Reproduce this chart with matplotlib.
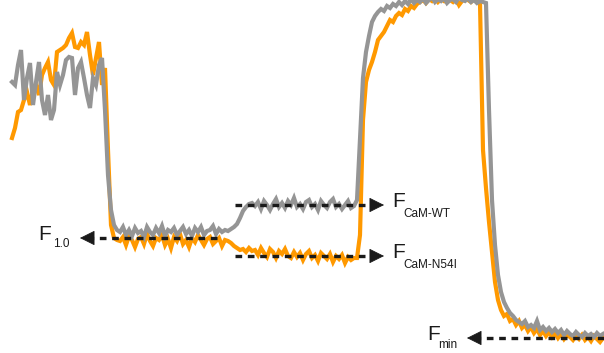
import numpy as np
import matplotlib
matplotlib.use("Agg")
import matplotlib.pyplot as plt

# time axis: 0.5 s per sample, 198 samples
dt = 0.5
gray_wt = [
    256, 253, 273, 288, 238, 260, 275, 233, 256, 276, 238, 223, 243, 218, 228, 266, 253, 263, 278, 281,
    280, 243, 270, 276, 260, 243, 230, 260, 253, 273, 280, 228, 163, 128, 113, 108,
    106, 111, 103, 108, 102, 110, 105, 107, 101, 111, 106, 103, 110, 105, 112, 102, 108, 106, 110, 103,
    107, 111, 104, 108, 102, 110, 106, 111, 103, 107, 108, 112, 104, 109, 106, 108,
    107, 109, 111, 114, 120, 127, 131, 134, 135,
    132, 136, 129, 137, 133, 128, 134, 139, 131, 135, 130, 137, 133, 140, 131, 134, 129, 136, 138, 131,
    134, 128, 137, 133, 130, 136, 139, 131, 134, 129, 133, 137, 130, 132,
    138, 198, 260, 286, 302, 316, 322, 326, 329, 327, 332, 330, 334, 332, 336, 333, 337, 334, 339, 335,
    338, 336, 340, 335, 338, 341, 336, 339, 337, 340, 335, 338, 339, 336, 341, 338, 337, 340, 336, 338,
    335, 337, 336,
    335, 228, 138, 93, 63, 46, 36, 30, 25, 22, 18, 16, 14, 17, 11, 13, 10, 17, 8, 11,
    7, 10, 6, 9, 5, 8, 3, 7, 4, 2, 6, 3, 1, 5, 2, 4, 1, 5, 2, 4,
]
orange_n54i = [
    200, 210, 226, 228, 238, 246, 233, 248, 253, 243, 263, 270, 276, 258, 253, 286, 288, 290, 293, 300,
    305, 291, 290, 296, 293, 306, 283, 263, 280, 296, 253, 270, 188, 113, 100, 98,
    97, 101, 93, 102, 98, 91, 99, 101, 94, 104, 97, 92, 100, 98, 103, 93, 99, 90, 101, 97,
    104, 94, 98, 91, 100, 96, 103, 98, 93, 99, 101, 94, 97, 100, 92, 98,
    97, 95, 92, 90, 88, 89, 86, 90, 87,
    88, 83, 90, 85, 81, 89, 86, 80, 87, 84, 89, 82, 80, 86, 81, 85, 78, 84, 87, 80,
    83, 77, 85, 82, 79, 84, 76, 82, 79, 83, 75, 81, 78, 80,
    80, 103, 218, 256, 268, 276, 286, 298, 302, 306, 312, 318, 316, 322, 325, 323, 329, 327, 332, 330,
    334, 336, 338, 335, 339, 337, 340, 336, 339, 337, 340, 338, 336, 339, 333, 337, 340, 338, 336, 339,
    337, 335, 188,
    150, 116, 86, 56, 38, 28, 22, 24, 17, 19, 13, 17, 10, 13, 7, 11, 5, 9, 3, 7,
    2, 6, 1, 5, 0, 4, -1, 3, 1, -2, 2, -1, 3, -2, 1, -3, 2, -1, -4, 0,
]
time_s = np.arange(len(gray_wt)) * dt

# reference levels (a.u.)
level_names = ["1.0", "CaM-WT", "CaM-N54I", "min"]
level_values = [100, 133, 82, 0]

GRAY = "#959595"
ORANGE = "#ff9900"
BLACK = "#1a1a1a"

fig = plt.figure(figsize=(6.04, 3.53), dpi=100)
ax = fig.add_axes([0, 0, 1, 1])
ax.set_xlim(-2, 98.667)
ax.set_ylim(-15, 338)
ax.axis("off")

ax.plot(time_s, orange_n54i, color=ORANGE, lw=3.0, solid_joinstyle="miter", zorder=2)
ax.plot(time_s, gray_wt, color=GRAY, lw=3.0, solid_joinstyle="miter", zorder=3)

dash = (0, (2.0, 1.7))
lw_d = 2.4

def dashed_arrow(x_start, x_tip, y, head_len_t):
    direction = 1 if x_tip > x_start else -1
    base = x_tip - direction * head_len_t
    ax.plot([x_start, base], [y, y], color=BLACK, lw=lw_d, linestyle=dash,
            dash_capstyle="butt", zorder=4)
    ax.annotate("", xy=(x_tip, y), xytext=(base, y),
                arrowprops=dict(arrowstyle="-|>,head_length=0.48,head_width=0.24",
                                color=BLACK, lw=0.5, shrinkA=0, shrinkB=0,
                                mutation_scale=20), zorder=5)

head_t = 13 / 6.0
dashed_arrow(34.2, 11.33, level_values[0], head_t)
dashed_arrow(37.2, 62.0, level_values[1], head_t)
dashed_arrow(37.2, 62.0, level_values[2], head_t)
dashed_arrow(98.7, 75.83, level_values[3], head_t)

font = "Liberation Sans"
main_fs = 15
sub_fs = 8.5
labels = [
    (4.33, 98, 6.83, 91, level_names[0]),
    (63.33, 131, 65.17, 121, level_names[1]),
    (63.33, 80, 65.17, 70, level_names[2]),
    (69.17, -2, 71.0, -10, level_names[3]),
]
for fx, fy, sx, sy, sub in labels:
    ax.text(fx, fy, "F", fontsize=main_fs, family=font, color=BLACK,
            ha="left", va="baseline")
    ax.text(sx, sy, sub, fontsize=sub_fs, family=font, color=BLACK,
            ha="left", va="baseline")

fig.savefig("out.png", dpi=100)
